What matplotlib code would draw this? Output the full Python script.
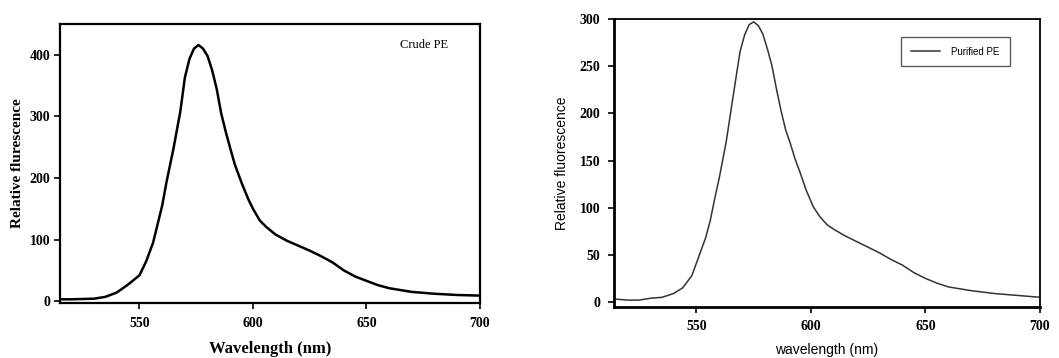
import numpy as np
import matplotlib.pyplot as plt

# Crude PE emission spectrum
crude_wl = [515, 520, 530, 535, 540, 545, 550, 553, 556, 558, 560, 562, 565, 568, 570, 572,
            574, 576, 578, 580, 582, 584, 586, 588, 590, 592, 595, 598, 600, 603, 606,
            610, 615, 620, 625, 630, 635, 640, 645, 650, 655, 660, 670, 680, 690, 700]
crude_fl = [3, 3, 4, 7, 14, 27, 42, 65, 95, 125, 155, 195, 248, 308, 363, 393,
            410, 416, 410, 398, 375, 345, 305, 275, 248, 222, 192, 165, 150, 131, 120,
            108, 98, 90, 82, 73, 63, 50, 40, 33, 26, 21, 15, 12, 10, 9]

# Purified PE emission spectrum
pure_wl = [515, 520, 525, 530, 535, 540, 544, 548, 551, 554, 556, 558, 560, 563, 566, 569,
           571, 573, 575, 577, 579, 581, 583, 585, 587, 589, 591, 593, 595, 598, 601,
           604, 607, 610, 615, 620, 625, 630, 635, 640, 645, 650, 655, 660, 670, 680,
           690, 700]
pure_fl = [3, 2, 2, 4, 5, 9, 15, 28, 48, 68, 86, 110, 132, 170, 218, 265,
           283, 294, 297, 293, 284, 268, 250, 225, 202, 182, 168, 152, 139, 118, 101,
           90, 82, 77, 70, 64, 58, 52, 45, 39, 31, 25, 20, 16, 12, 9,
           7, 5]

xticks = [550, 600, 650, 700]
crude_yticks = [0, 100, 200, 300, 400]
pure_yticks = [0, 50, 100, 150, 200, 250, 300]

serif = ['Liberation Serif', 'DejaVu Serif']
sans = ['Liberation Sans', 'DejaVu Sans']

fig = plt.figure(figsize=(10.59, 3.58), dpi=100)
W, H = 1059.0, 358.0

# left panel
ax1 = fig.add_axes([60 / W, 1 - 303 / H, 420 / W, 279 / H])
ax1.plot(crude_wl, crude_fl, color='black', lw=1.8)
ax1.set_xlim(515, 700)
ax1.set_ylim(-3, 450)
ax1.set_xticks(xticks)
ax1.set_yticks(crude_yticks)
for s in ax1.spines.values():
    s.set_linewidth(1.6)
ax1.tick_params(direction='out', length=4, width=1.2)
ax1.tick_params(axis='x', pad=6)
ax1.tick_params(axis='y', pad=3)
for lab in ax1.get_xticklabels() + ax1.get_yticklabels():
    lab.set_family(serif)
    lab.set_fontweight('bold')
    lab.set_fontsize(10)
ax1.set_xlabel('Wavelength (nm)', family=serif, fontweight='bold', fontsize=12)
ax1.xaxis.set_label_coords(0.5, -0.135)
ax1.set_ylabel('Relative flurescence', family=serif, fontweight='bold', fontsize=11)
ax1.yaxis.set_label_coords(-36 / 420, 0.5)
ax1.text(0.81, 0.925, 'Crude PE', transform=ax1.transAxes, family=serif, fontsize=9,
         ha='left', va='center')

# right panel
ax2 = fig.add_axes([614 / W, 1 - 307 / H, 426 / W, 288 / H])
ax2.plot(pure_wl, pure_fl, color='#333333', lw=1.1, label='Purified PE')
ax2.set_xlim(514, 700)
ax2.set_ylim(-5.3, 300)
ax2.set_xticks(xticks)
ax2.set_yticks(pure_yticks)
ax2.spines['left'].set_linewidth(2.0)
ax2.spines['bottom'].set_linewidth(2.0)
ax2.spines['top'].set_linewidth(1.3)
ax2.spines['right'].set_linewidth(1.3)
ax2.tick_params(direction='out', length=4, width=1.2)
ax2.tick_params(axis='x', pad=5)
ax2.tick_params(axis='y', pad=6)
for lab in ax2.get_xticklabels() + ax2.get_yticklabels():
    lab.set_family(serif)
    lab.set_fontweight('bold')
    lab.set_fontsize(10)
ax2.set_xlabel('wavelength (nm)', family=sans, fontsize=10)
ax2.xaxis.set_label_coords(0.5, -0.125)
ax2.set_ylabel('Relative fluorescence', family=sans, fontsize=10)
ax2.yaxis.set_label_coords(-45 / 426, 0.5)
leg = ax2.legend(loc='upper right', bbox_to_anchor=(0.94, 0.955), prop={'family': sans, 'size': 7},
                 frameon=True, fancybox=False, edgecolor='#333333', borderpad=1.0,
                 handlelength=3.0, handletextpad=1.2)
leg.get_frame().set_linewidth(1.0)

fig.savefig('out.png', dpi=100)
